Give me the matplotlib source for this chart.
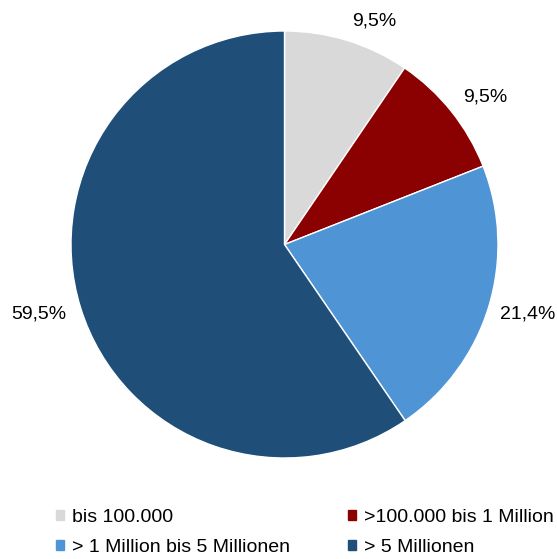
import numpy as np
import matplotlib
matplotlib.use("Agg")
import matplotlib.pyplot as plt

plt.rcParams['font.family'] = ['Liberation Sans', 'DejaVu Sans']

categories = ["bis 100.000", ">100.000 bis 1 Million",
              "> 1 Million bis 5 Millionen", "> 5 Millionen"]
shares = [9.5, 9.5, 21.4, 59.5]
colors = ["#d9d9d9", "#8b0000", "#4f95d6", "#1f4e79"]

W, H = 557, 559
FS = 14
fig = plt.figure(figsize=(W / 100, H / 100), dpi=100)
cx, cy, r = 284.5, 244.5, 213.5
ax = fig.add_axes([(cx - r) / W, (H - cy - r) / H, 2 * r / W, 2 * r / H])

wedges, _ = ax.pie(shares, colors=colors, startangle=90, counterclock=False,
                   radius=1.0, wedgeprops=dict(edgecolor="white", linewidth=1.0))
ax.set_xlim(-1, 1)
ax.set_ylim(-1, 1)
ax.set_aspect("equal")
ax.axis("off")

# value labels outside the slices
label_dist = [1.128, 1.166, 1.186, 1.195]
angle_nudge = [-4.7, -2.4, 1.0, -1.5]
total = sum(shares)
cum = 0.0
for val, d, nudge in zip(shares, label_dist, angle_nudge):
    mid = 90 - 360 * (cum + val / 2) / total + nudge
    cum += val
    th = np.deg2rad(mid)
    ax.text(d * np.cos(th), d * np.sin(th), f"{val:.1f}%".replace(".", ","),
            ha="center", va="center", fontsize=FS, color="#000000")

order = [0, 2, 1, 3]
leg_handles = [plt.Rectangle((0, 0), 1, 1, color=colors[i]) for i in order]
fig.legend(leg_handles, [categories[i] for i in order],
           ncol=2, loc="upper left", bbox_to_anchor=(56 / W, 1 - 509 / H),
           frameon=False, fontsize=FS, handlelength=0.42, handleheight=0.42,
           handletextpad=0.42, columnspacing=2.95, labelspacing=0.65,
           borderaxespad=0, borderpad=0)

fig.savefig("out.png", dpi=100)
